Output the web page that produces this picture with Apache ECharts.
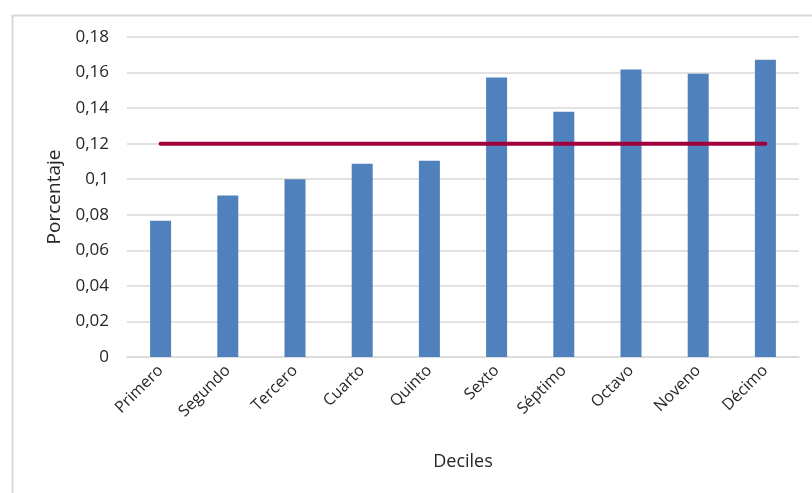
<!DOCTYPE html>
<html>
<head>
<meta charset="utf-8">
<script src="https://cdn.jsdelivr.net/npm/echarts@6/dist/echarts.min.js"></script>
<style>
html,body{margin:0;padding:0;background:#fff;}
#chart{width:812px;height:493px;}
</style>
</head>
<body>
<div id="chart"></div>
<script>
const categories = ['Primero','Segundo','Tercero','Cuarto','Quinto','Sexto','Séptimo','Octavo','Noveno','Décimo'];
const porcentaje = [0.0767, 0.0909, 0.1000, 0.1087, 0.1104, 0.1572, 0.1379, 0.1617, 0.1593, 0.1672];
const referencia = [0.12, 0.12, 0.12, 0.12, 0.12, 0.12, 0.12, 0.12, 0.12, 0.12];
const yMin = 0, yMax = 0.18, yStep = 0.02;

const chart = echarts.init(document.getElementById('chart'));
const font = 'Open Sans';
const txt = '#262626';
chart.setOption({
  animation: false,
  textStyle: { fontFamily: font },
  graphic: [{
    type: 'rect', left: 10, top: 13,
    shape: { width: 900, height: 600 },
    style: { fill: 'none', stroke: '#d9d9d9', lineWidth: 2 },
    silent: true
  }],
  grid: { left: 127, right: 13, top: 37, bottom: 136 },
  xAxis: {
    type: 'category',
    data: categories,
    name: 'Deciles',
    nameLocation: 'middle',
    nameGap: 96,
    nameTextStyle: { fontSize: 18, color: txt, fontFamily: font },
    axisLine: { lineStyle: { color: '#d9d9d9', width: 1.5 } },
    axisTick: { show: false },
    axisLabel: { rotate: 45, fontSize: 16, color: txt, margin: 11, interval: 0, fontFamily: font }
  },
  yAxis: {
    type: 'value',
    min: yMin, max: yMax, interval: yStep,
    name: 'Porcentaje',
    nameLocation: 'middle',
    nameRotate: 90,
    nameGap: 62,
    nameTextStyle: { fontSize: 19, color: txt, fontFamily: font },
    axisLine: { show: false },
    axisTick: { show: false },
    axisLabel: {
      fontSize: 17, color: txt, margin: 18, fontFamily: font,
      formatter: v => String(Math.round(v * 100) / 100).replace('.', ',')
    },
    splitLine: { lineStyle: { color: '#d9d9d9', width: 1.5 } }
  },
  series: [
    {
      type: 'bar',
      data: porcentaje,
      barWidth: 21,
      itemStyle: { color: '#4F81BD' },
      z: 2
    },
    {
      type: 'line',
      data: referencia,
      symbol: 'none',
      lineStyle: { color: '#A0003C', width: 4, cap: 'round' },
      z: 3
    }
  ]
});
</script>
</body>
</html>
